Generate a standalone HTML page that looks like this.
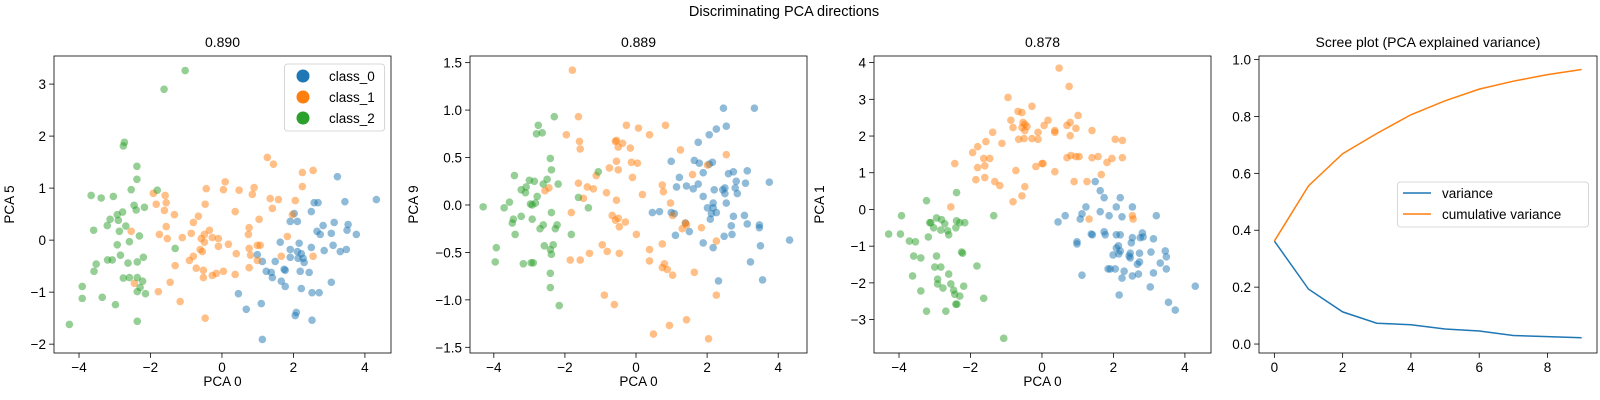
<!DOCTYPE html>
<html><head><meta charset="utf-8"><style>
html,body{margin:0;padding:0;background:#fff;}
svg{display:block;font-family:"Liberation Sans","DejaVu Sans",sans-serif;}
</style></head><body>
<svg id="fig" width="1600" height="400" viewBox="0 0 1600 400">
<text x="784" y="16" font-size="14.5" text-anchor="middle" fill="#000">Discriminating PCA directions</text>
</svg>
<script>
// ---------- data ----------
const p1Blue=[[3.23,1.22],[4.32,0.78],[2.58,0.72],[2.69,0.72],[3.44,0.74],[2.02,0.51],[2.5,0.55],[1.91,0.36],[2.11,0.36],[2.83,0.28],[3.14,0.34],[3.53,0.3],[3.5,0.19],[2.66,0.17],[2.75,0.11],[3.06,0.13],[3.76,0.11],[1.63,-0.04],[2.16,-0.06],[3.11,-0.1],[2.5,-0.14],[1.91,-0.18],[2.11,-0.22],[2.22,-0.26],[2.86,-0.2],[3.31,-0.22],[3.48,-0.18],[0.99,-0.28],[1.91,-0.33],[2.13,-0.35],[2.27,-0.35],[2.3,-0.43],[1.13,-0.41],[1.49,-0.41],[1.74,-0.56],[1.77,-0.58],[1.24,-0.6],[1.38,-0.62],[2.19,-0.6],[2.44,-0.62],[1.41,-0.72],[1.66,-0.79],[3.06,-0.81],[1.77,-0.89],[2.22,-0.93],[0.46,-1.03],[2.52,-1.01],[2.72,-1.01],[0.68,-1.33],[1.1,-1.22],[2.08,-1.39],[2.05,-1.45],[2.52,-1.54],[1.13,-1.91]];
const p1Orange=[[1.27,1.59],[1.44,1.46],[2.25,1.3],[2.55,1.34],[0.09,1.12],[-0.44,0.99],[0.04,0.97],[0.48,0.96],[0.9,1.01],[0.85,0.88],[2.25,1.03],[-1.92,0.9],[-1.59,0.86],[1.35,0.8],[1.58,0.78],[2.05,0.76],[-1.84,0.69],[-1.56,0.72],[-0.47,0.69],[-1.61,0.57],[1.41,0.61],[0.37,0.55],[-1.33,0.49],[1.97,0.49],[-0.66,0.46],[-0.8,0.34],[1.04,0.4],[-1.56,0.26],[0.76,0.24],[-2.54,0.17],[-1.75,0.11],[-0.86,0.13],[-0.35,0.19],[-0.49,0.11],[0.74,0.11],[-1.53,0.03],[-1.11,0.05],[-0.27,0.05],[-0.1,0.03],[-0.58,0.03],[1.83,0.07],[-0.49,-0.04],[0.18,-0.08],[-0.1,-0.12],[0.99,-0.1],[1.07,-0.1],[0.76,-0.16],[-0.61,-0.18],[-0.55,-0.22],[0.4,-0.26],[0.8,-0.29],[1.66,-0.31],[2.55,-0.31],[-0.8,-0.31],[-0.91,-0.39],[0.99,-0.39],[-1.31,-0.49],[0.76,-0.53],[-0.72,-0.54],[-0.52,-0.58],[0.04,-0.6],[-0.16,-0.64],[-0.27,-0.68],[0.37,-0.66],[-0.52,-0.72],[-1.45,-0.81],[-2.45,-0.83],[-1.78,-0.99],[-1.17,-1.18],[-0.47,-1.5]];
const p1Green=[[-1.03,3.26],[-1.62,2.9],[-2.73,1.88],[-2.76,1.81],[-2.38,1.42],[-2.38,1.17],[-2.54,0.97],[-1.81,0.96],[-3.66,0.86],[-3.38,0.81],[-3.04,0.84],[-2.46,0.67],[-2.4,0.58],[-2.17,0.63],[-2.78,0.54],[-3.13,0.4],[-2.93,0.49],[-2.9,0.38],[-3.21,0.28],[-2.69,0.27],[-3.59,0.19],[-2.87,0.17],[-2.31,0.08],[-2.59,-0.03],[-2.93,-0.09],[-1.31,-0.16],[-2.84,-0.29],[-2.2,-0.33],[-3.2,-0.38],[-3.07,-0.38],[-2.63,-0.44],[-2.37,-0.42],[-3.52,-0.46],[-3.58,-0.6],[-2.76,-0.73],[-2.59,-0.72],[-2.37,-0.72],[-2.22,-0.79],[-2.29,-0.91],[-2.37,-0.99],[-2.14,-1.03],[-3.91,-0.89],[-3.91,-1.12],[-3.35,-1.1],[-2.98,-1.24],[-2.37,-1.56],[-4.27,-1.62]];

const p2Blue=[[2.46,1.02],[3.33,1.02],[2.54,0.83],[2.26,0.8],[2.06,0.74],[1.75,0.66],[0.99,0.46],[1.64,0.47],[1.78,0.44],[2.15,0.45],[2.06,0.43],[3.13,0.36],[2.74,0.35],[2.6,0.33],[1.89,0.34],[1.22,0.29],[2.82,0.25],[3.75,0.24],[1.75,0.22],[3.08,0.23],[1.14,0.19],[1.42,0.2],[1.61,0.17],[2.2,0.16],[2.5,0.18],[2.44,0.16],[2.79,0.18],[2.5,0.12],[2.85,0.12],[1.89,0.09],[2.17,0.02],[2.54,0.02],[2.01,-0.03],[2.17,-0.03],[0.46,-0.08],[0.66,-0.07],[0.99,-0.08],[1.08,-0.09],[2.12,-0.09],[2.26,-0.08],[3.05,-0.11],[2.74,-0.12],[2.09,-0.15],[1.39,-0.19],[3.13,-0.2],[2.68,-0.22],[3.47,-0.21],[3.47,-0.24],[1.5,-0.28],[1.11,-0.32],[2.7,-0.31],[2.48,-0.33],[1.89,-0.4],[4.32,-0.37],[2.17,-0.45],[3.5,-0.43],[3.22,-0.6],[2.32,-0.8],[3.56,-0.79]];
const p2Orange=[[-1.79,1.42],[-1.62,0.93],[-0.27,0.84],[0.07,0.81],[0.83,0.84],[-1.96,0.74],[0.38,0.74],[-1.59,0.67],[-0.55,0.68],[-0.58,0.67],[-0.38,0.65],[-0.5,0.61],[-0.16,0.6],[-1.57,0.59],[1.25,0.58],[2.54,0.53],[-0.55,0.46],[-0.13,0.45],[0.04,0.44],[2.01,0.42],[-0.75,0.39],[-0.5,0.37],[-1.12,0.31],[-0.1,0.29],[1.59,0.32],[-1.62,0.23],[-1.37,0.19],[-1.2,0.17],[0.74,0.21],[-2.45,0.18],[-2.56,0.15],[-0.83,0.13],[0.77,0.14],[0.18,0.11],[-1.48,0.07],[-0.55,0.05],[0.97,0.02],[-1.82,-0.08],[-0.67,-0.11],[-0.5,-0.14],[-0.58,-0.16],[-0.3,-0.18],[1.03,-0.11],[1.39,-0.19],[1.42,-0.21],[1.3,-0.25],[1.84,-0.24],[-0.47,-0.23],[0.01,-0.31],[2.26,-0.38],[-0.95,-0.42],[0.74,-0.41],[-0.81,-0.49],[-1.31,-0.51],[-0.47,-0.51],[0.38,-0.47],[-1.85,-0.58],[-1.57,-0.58],[0.38,-0.59],[0.8,-0.62],[0.74,-0.66],[0.88,-0.68],[1.03,-0.74],[1.64,-0.71],[-0.89,-0.95],[-0.61,-1.05],[2.26,-0.95],[1.42,-1.21],[0.94,-1.27],[0.49,-1.36],[2.04,-1.41]];
const p2Green=[[-2.3,0.93],[-2.75,0.84],[-2.8,0.75],[-2.64,0.76],[-2.41,0.49],[-2.38,0.37],[-3.42,0.31],[-1.06,0.35],[-3.0,0.26],[-2.86,0.25],[-2.5,0.27],[-2.61,0.22],[-2.19,0.22],[-3.09,0.19],[-3.23,0.16],[-3.11,0.13],[-2.78,0.09],[-1.62,0.08],[-3.56,0.03],[-2.97,0.01],[-2.83,0.02],[-2.92,0.0],[-4.3,-0.02],[-3.71,-0.03],[-1.34,-0.03],[-2.38,-0.08],[-3.23,-0.12],[-2.92,-0.15],[-3.45,-0.15],[-3.48,-0.19],[-2.61,-0.21],[-2.22,-0.21],[-2.7,-0.25],[-2.27,-0.25],[-3.4,-0.31],[-1.82,-0.31],[-2.58,-0.43],[-2.33,-0.42],[-2.41,-0.47],[-2.38,-0.52],[-3.93,-0.45],[-3.96,-0.6],[-3.17,-0.62],[-2.95,-0.61],[-2.89,-0.61],[-2.41,-0.72],[-2.41,-0.87],[-2.16,-1.06]];

const p3Blue=[[1.49,0.76],[1.63,0.51],[1.74,0.32],[2.19,0.32],[1.23,0.07],[2.08,0.07],[2.53,0.07],[0.65,-0.17],[1.12,-0.12],[1.63,-0.06],[1.88,-0.17],[2.24,-0.2],[3.2,-0.17],[0.45,-0.34],[1.07,-0.26],[1.74,-0.61],[1.77,-0.69],[1.38,-0.67],[1.41,-0.69],[2.08,-0.69],[2.19,-0.69],[2.81,-0.64],[2.75,-0.77],[2.83,-0.75],[2.53,-0.77],[3.12,-0.8],[2.5,-0.91],[0.98,-0.88],[0.98,-0.94],[2.08,-1.05],[2.14,-0.99],[2.19,-1.13],[2.47,-1.19],[2.73,-1.19],[3.05,-1.16],[3.45,-1.13],[1.99,-1.24],[2.15,-1.21],[2.44,-1.27],[2.47,-1.32],[3.48,-1.29],[2.73,-1.43],[2.67,-1.49],[3.31,-1.46],[1.85,-1.62],[1.91,-1.62],[2.05,-1.62],[2.3,-1.68],[3.48,-1.62],[3.12,-1.73],[1.12,-1.79],[2.7,-1.76],[2.53,-1.81],[2.24,-1.87],[3.03,-2.11],[4.29,-2.09],[2.16,-2.33],[3.54,-2.53],[3.73,-2.74]];
const p3Orange=[[0.48,3.85],[0.76,3.35],[-0.95,3.05],[-0.28,2.81],[-0.67,2.67],[-0.56,2.64],[1.01,2.56],[-0.87,2.43],[0.17,2.43],[-0.53,2.37],[-0.48,2.32],[0.79,2.37],[-0.81,2.23],[-0.56,2.23],[-0.42,2.26],[0.06,2.29],[0.7,2.29],[0.95,2.21],[-0.48,2.15],[0.36,2.15],[1.4,2.15],[-1.38,2.1],[-0.11,2.1],[0.36,2.1],[0.79,2.01],[-0.65,1.91],[-0.5,1.93],[-0.28,1.93],[-0.11,1.91],[2.05,1.91],[2.25,1.88],[-1.57,1.85],[-1.12,1.8],[-1.8,1.71],[-1.94,1.55],[-1.63,1.39],[-1.46,1.39],[0.7,1.41],[0.81,1.47],[0.95,1.44],[1.04,1.44],[1.4,1.41],[1.57,1.44],[1.96,1.39],[2.25,1.41],[-2.44,1.25],[-1.6,1.19],[-1.8,1.14],[-0.17,1.17],[0.0,1.25],[0.03,1.25],[1.82,1.28],[-0.73,1.06],[0.36,1.03],[1.66,0.95],[-1.85,0.81],[-1.6,0.87],[-1.32,0.76],[-1.18,0.65],[-0.48,0.62],[0.9,0.76],[1.26,0.76],[-0.56,0.37],[-0.81,0.21],[-2.55,0.07],[1.32,-0.26],[2.53,-0.17],[2.55,-0.26]];
const p3Green=[[-2.39,0.46],[-3.23,0.24],[-3.93,-0.17],[-1.35,-0.17],[-2.95,-0.23],[-2.81,-0.28],[-3.11,-0.36],[-3.14,-0.36],[-2.72,-0.39],[-2.39,-0.31],[-2.16,-0.36],[-2.3,-0.36],[-3.03,-0.5],[-2.83,-0.56],[-2.64,-0.58],[-2.41,-0.5],[-2.61,-0.69],[-4.29,-0.67],[-3.96,-0.67],[-3.18,-0.75],[-3.71,-0.86],[-3.54,-0.88],[-2.25,-1.16],[-2.22,-1.19],[-3.59,-1.27],[-3.39,-1.32],[-2.95,-1.27],[-3.0,-1.57],[-2.83,-1.57],[-1.82,-1.54],[-3.62,-1.81],[-2.61,-1.76],[-2.92,-1.9],[-2.92,-2.03],[-2.55,-2.03],[-2.77,-2.14],[-2.47,-2.2],[-2.19,-2.09],[-2.44,-2.31],[-2.3,-2.36],[-3.39,-2.22],[-1.63,-2.42],[-2.41,-2.58],[-2.38,-2.58],[-3.23,-2.77],[-2.69,-2.77],[-1.07,-3.51]];

const screeX=[0,1,2,3,4,5,6,7,8,9];
const variance=[0.362,0.193,0.113,0.073,0.068,0.053,0.046,0.030,0.026,0.022];
const cumVariance=[0.362,0.556,0.669,0.740,0.806,0.855,0.896,0.924,0.947,0.965];

const xTicksPCA=[-4,-2,0,2,4];
const yTicksP1=[-2,-1,0,1,2,3];
const yTicksP2=[-1.5,-1.0,-0.5,0.0,0.5,1.0,1.5];
const yTicksP3=[-3,-2,-1,0,1,2,3,4];
const xTicksScree=[0,2,4,6,8];
const yTicksScree=[0.0,0.2,0.4,0.6,0.8,1.0];

const C0='#1f77b4',C1='#ff7f0e',C2='#2ca02c';
const NS='http://www.w3.org/2000/svg';
const svg=document.getElementById('fig');
function mk(tag,attrs,parent){const e=document.createElementNS(NS,tag);for(const k in attrs)e.setAttribute(k,attrs[k]);(parent||svg).appendChild(e);return e;}
function fmt(v,d){return (v<0?'\u2212':'')+Math.abs(v).toFixed(d);}

function axes(cfg){
  const g=mk('g',{});
  
  
  const L=cfg.L,R=cfg.R,T=56,B=353;
  const sx=v=>L+(v-cfg.xmin)/(cfg.xmax-cfg.xmin)*(R-L);
  const sy=v=>B-(v-cfg.ymin)/(cfg.ymax-cfg.ymin)*(B-T);
  const t=mk('text',{x:(L+R)/2,y:47,'font-size':'14','text-anchor':'middle',fill:'#000'},g);
  t.textContent=cfg.title;
  
  
  cfg.xticks.forEach(v=>{const x=sx(v);mk('line',{x1:x,x2:x,y1:B,y2:B+4.9,stroke:'#000','stroke-width':0.8},g);
    const tx=mk('text',{x:x,y:B+19,'font-size':'13.5','text-anchor':'middle',fill:'#000'},g);tx.textContent=fmt(v,cfg.xd);
    
    });
  cfg.yticks.forEach(v=>{const y=sy(v);mk('line',{x1:L-4.9,x2:L,y1:y,y2:y,stroke:'#000','stroke-width':0.8},g);
    const ty=mk('text',{x:L-8,y:y+5,'font-size':'13.5','text-anchor':'end',fill:'#000'},g);ty.textContent=fmt(v,cfg.yd);
    
    });
  if(cfg.xlabel){const xl=mk('text',{x:(L+R)/2,y:386,'font-size':'13.5','text-anchor':'middle',fill:'#000'},g);xl.textContent=cfg.xlabel;
    
    }
  if(cfg.ylabel){const yx=cfg.ylx;const yl=mk('text',{x:yx,y:(T+B)/2,'font-size':'13.5','text-anchor':'middle',fill:'#000',transform:`rotate(-90 ${yx} ${(T+B)/2})`},g);yl.textContent=cfg.ylabel;
    
    }
  const plot=mk('g',{},g);
  
  
  mk('rect',{x:L,y:T,width:R-L,height:B-T,fill:'none',stroke:'#000','stroke-width':0.8},g);
  return {sx,sy,plot,g};
}
function scatter(ax,pts,color,name){
  pts.forEach(p=>{const c=mk('circle',{cx:ax.sx(p[0]),cy:ax.sy(p[1]),r:3.8,fill:color,'fill-opacity':0.5},ax.plot);
    
    });
}
const pcaCfg={xmin:-4.70,xmax:4.73,xticks:xTicksPCA,xd:0,xlabel:'PCA 0'};
const a1=axes(Object.assign({},pcaCfg,{name:'scatter-pca5',L:54,R:391,ymin:-2.17,ymax:3.54,yticks:yTicksP1,yd:0,title:'0.890',ylabel:'PCA 5',ylx:14}));
const a2=axes(Object.assign({},pcaCfg,{name:'scatter-pca9',L:470,R:807,xmin:-4.67,xmax:4.81,ymin:-1.56,ymax:1.57,yticks:yTicksP2,yd:1,title:'0.889',ylabel:'PCA 9',ylx:418}));
const a3=axes(Object.assign({},pcaCfg,{name:'scatter-pca1',L:874,R:1211,xmin:-4.70,xmax:4.73,ymin:-3.91,ymax:4.18,yticks:yTicksP3,yd:0,title:'0.878',ylabel:'PCA 1',ylx:824}));
[[a1,p1Blue,p1Orange,p1Green],[a2,p2Blue,p2Orange,p2Green],[a3,p3Blue,p3Orange,p3Green]].forEach(s=>{
  scatter(s[0],s[1],C0,'point-class-0');scatter(s[0],s[2],C1,'point-class-1');scatter(s[0],s[3],C2,'point-class-2');});

// legend panel 1
(function(){const g=mk('g',{});
  mk('rect',{x:284.5,y:64,width:100,height:67,rx:3,fill:'#fff','fill-opacity':0.8,stroke:'#ccc','stroke-width':0.8},g);
  [['class_0',C0,76],['class_1',C1,97],['class_2',C2,118]].forEach(e=>{
    const c=mk('circle',{cx:303,cy:e[2],r:6.5,fill:e[1]},g);
    
    
    const t=mk('text',{x:329,y:e[2]+5,'font-size':'13.5',fill:'#000'},g);t.textContent=e[0];
    
    });})();

// scree
const a4=axes({name:'scree-plot',L:1259,R:1597,xmin:-0.45,xmax:9.45,ymin:-0.0315,ymax:1.0125,xticks:xTicksScree,xd:0,yticks:yTicksScree,yd:1,title:'Scree plot (PCA explained variance)'});
function line(ax,xs,ys,color,name){const d=xs.map((x,i)=>(i?'L':'M')+ax.sx(x)+' '+ax.sy(ys[i])).join(' ');
  const p=mk('path',{d:d,fill:'none',stroke:color,'stroke-width':1.5},ax.plot);
  
  }
line(a4,screeX,variance,C0,'variance-line');
line(a4,screeX,cumVariance,C1,'cumulative-variance-line');
(function(){const g=mk('g',{});
  mk('rect',{x:1397.5,y:182,width:191,height:45,rx:3,fill:'#fff','fill-opacity':0.8,stroke:'#ccc','stroke-width':0.8},g);
  [['variance',C0,193],['cumulative variance',C1,214]].forEach(e=>{
    mk('line',{x1:1403,x2:1431,y1:e[2],y2:e[2],stroke:e[1],'stroke-width':1.5},g);
    const t=mk('text',{x:1442,y:e[2]+5,'font-size':'13.5',fill:'#000'},g);t.textContent=e[0];
    
    });})();
</script>
</body></html>
